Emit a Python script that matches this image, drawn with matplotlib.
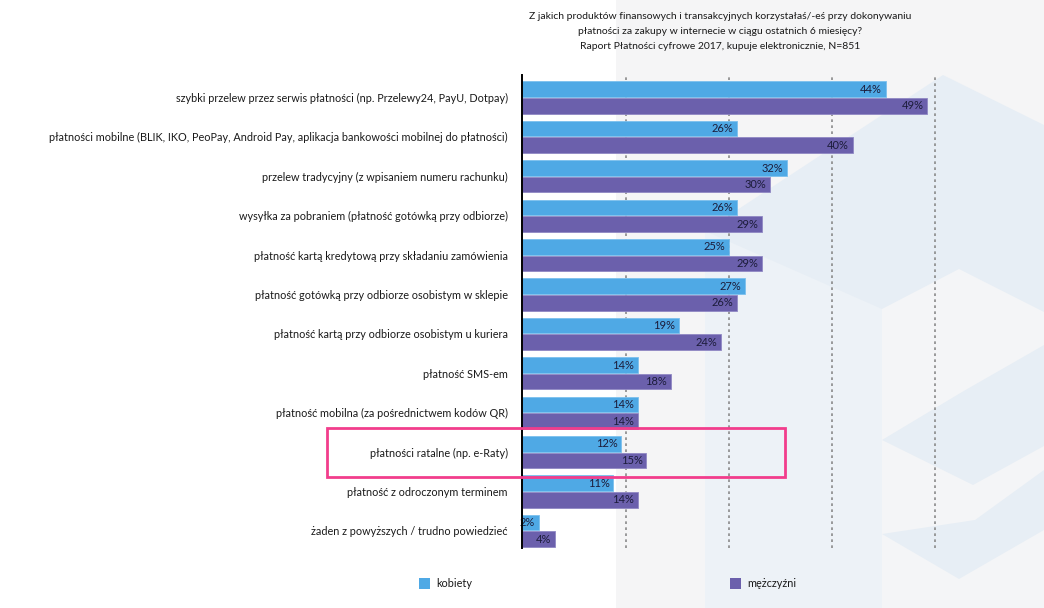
import matplotlib
matplotlib.use("Agg")
import matplotlib.pyplot as plt
from matplotlib.patches import Polygon, Rectangle
from matplotlib.transforms import Affine2D
import numpy as np

plt.rcParams['font.family'] = ['Lato', 'DejaVu Sans']

categories = [
    "szybki przelew przez serwis płatności (np. Przelewy24, PayU, Dotpay)",
    "płatności mobilne (BLIK, IKO, PeoPay, Android Pay, aplikacja bankowości mobilnej do płatności)",
    "przelew tradycyjny (z wpisaniem numeru rachunku)",
    "wysyłka za pobraniem (płatność gotówką przy odbiorze)",
    "płatność kartą kredytową przy składaniu zamówienia",
    "płatność gotówką przy odbiorze osobistym w sklepie",
    "płatność kartą przy odbiorze osobistym u kuriera",
    "płatność SMS-em",
    "płatność mobilna (za pośrednictwem kodów QR)",
    "płatności ratalne (np. e-Raty)",
    "płatność z odroczonym terminem",
    "żaden z powyższych / trudno powiedzieć",
]
kobiety = [44, 26, 32, 26, 25, 27, 19, 14, 14, 12, 11, 2]
mezczyzni = [49, 40, 30, 29, 29, 26, 24, 18, 14, 15, 14, 4]
series_names = ["kobiety", "mężczyźni"]
title = ("Z jakich produktów finansowych i transakcyjnych korzystałaś/-eś przy dokonywaniu\n"
         "płatności za zakupy w internecie w ciągu ostatnich 6 miesięcy?\n"
         "Raport Płatności cyfrowe 2017, kupuje elektronicznie, N=851")

W, H = 1044, 608
fig = plt.figure(figsize=(W / 100, H / 100), dpi=100)
fig.patch.set_facecolor('white')

# pixel transform (origin top-left)
px = Affine2D().scale(1 / W, -1 / H).translate(0, 1) + fig.transFigure

# background decoration
bg = [
    ([(616, 0), (1044, 0), (1044, 608), (616, 608)], '#f5f5f6'),
    ([(705, 231), (943, 75), (1044, 125), (1044, 608), (705, 608)], '#e7eef5'),
    ([(705, 231), (882, 309), (882, 608), (705, 608)], '#edf2f7'),
    ([(882, 309), (959, 269), (1044, 312), (1044, 345), (962, 392), (882, 440)], '#f4f5f7'),
    ([(882, 440), (973, 485), (1044, 446), (1044, 470), (975, 520), (882, 534)], '#f4f5f7'),
    ([(882, 534), (959, 579), (1044, 530), (1044, 608), (882, 608)], '#f4f5f7'),
]
for pts, c in bg:
    fig.patches.append(Polygon(pts, closed=True, transform=px, facecolor=c,
                               edgecolor='none', zorder=-5))

scale = 8.26  # px per percent
ax_left, ax_right = 522.3, 1044
ax_top, ax_bot = 75, 548
ax = fig.add_axes([ax_left / W, 1 - ax_bot / H, (ax_right - ax_left) / W, (ax_bot - ax_top) / H])
ax.set_zorder(2)
ax.patch.set_alpha(0)
ax.set_xlim(0, (ax_right - ax_left) / scale)
unit = 39.4
y0 = 97.5
ax.set_ylim(11 + (ax_bot - (y0 + 11 * unit)) / unit, -(y0 - ax_top) / unit)

y = np.arange(len(categories))
bh = 15.5 / unit
off = 8.3 / unit
c_k = '#4fa9e5'
c_m = '#6b60ac'
ax.barh(y - off, kobiety, height=bh, color=c_k, edgecolor='#7cc0ee', linewidth=0.6, zorder=3)
ax.barh(y + off, mezczyzni, height=bh, color=c_m, edgecolor='#9088c4', linewidth=0.6, zorder=3)

for i, (k, m) in enumerate(zip(kobiety, mezczyzni)):
    ax.text(k - 0.45, i - off, f"{k}%", ha='right', va='center', fontsize=8.0,
            color='#1c1c3a', zorder=4)
    ax.text(m - 0.45, i + off, f"{m}%", ha='right', va='center', fontsize=8.0,
            color='#1c1c3a', zorder=4)

for g in [12.5, 25, 37.5, 50]:
    ax.axvline(g, color='#8a8a8a', linewidth=1.2, linestyle=(0, (1.6, 2.0)), zorder=1)

for s in ['top', 'right', 'bottom']:
    ax.spines[s].set_visible(False)
ax.spines['left'].set_color('black')
ax.spines['left'].set_linewidth(1.4)
ax.spines['left'].set_zorder(5)
ax.set_xticks([])
ax.set_yticks(y)
ax.set_yticklabels(categories, fontsize=7.8, color='#1a1a1a')
ax.tick_params(axis='y', length=0, pad=10.5)

# title
fig.text(720 / W, 1 - 12 / H, title, ha='center', va='top', fontsize=7.45,
         color='#1a1a1a', linespacing=1.85)

# highlight box
fig.patches.append(Rectangle((327, 428), 785 - 327, 477 - 428, transform=px,
                             fill=False, edgecolor='#f23d8c', linewidth=2.0, zorder=10))

# legend
for (x0, name, col) in [(419, series_names[0], c_k), (730, series_names[1], c_m)]:
    fig.patches.append(Rectangle((x0, 578), 10.5, 10.5, transform=px, facecolor=col,
                                 edgecolor='none', zorder=5))
    fig.text((x0 + 17.5) / W, 1 - 583.5 / H, name, ha='left', va='center', fontsize=7.8,
             color='#1a1a1a')

fig.savefig('out.png', dpi=100, facecolor=fig.get_facecolor())
